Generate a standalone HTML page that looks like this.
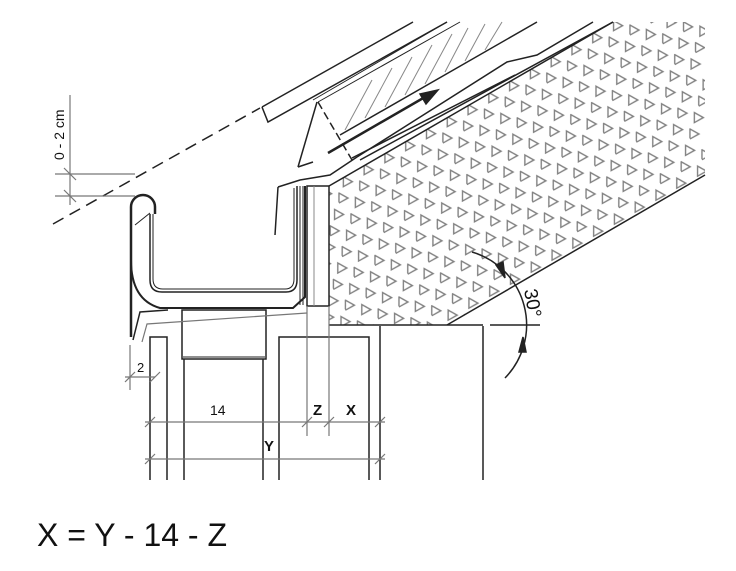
<!DOCTYPE html>
<html><head><meta charset="utf-8"><style>
html,body{margin:0;padding:0;background:#fff;}
svg{display:block;}
</style></head><body>
<svg width="736" height="571" viewBox="0 0 736 571" xmlns="http://www.w3.org/2000/svg" font-family="Liberation Sans, sans-serif">
<defs>
<pattern id="tri" width="24" height="24" patternUnits="userSpaceOnUse" patternTransform="rotate(-30)">
<polygon points="2,2 2,12 11,7" fill="none" stroke="#808080" stroke-width="1.4" transform="rotate(30 6 7)"/>
<polygon points="14,14 14,24 23,19" fill="none" stroke="#808080" stroke-width="1.4" transform="rotate(30 18 19)"/>
<polygon points="14,-10 14,0 23,-5" fill="none" stroke="#808080" stroke-width="1.4" transform="rotate(30 18 -5)"/>
</pattern>
<clipPath id="ins"><polygon points="329,186 613,22 705,22 705,175 447,325 329,325"/></clipPath>
</defs>
<g stroke="#222" fill="none" stroke-width="1.5">
<rect x="300" y="0" width="420" height="340" fill="url(#tri)" stroke="none" clip-path="url(#ins)"/>
<polyline points="329,186 613,22"/>
<polyline points="447,325 705,175"/>
<line x1="329" y1="325" x2="483" y2="325"/>
<polyline points="262,107 413,22"/>
<polyline points="262,107 268,122 447,22"/>
<line x1="313" y1="100" x2="447" y2="22" stroke-width="1"/>
<line x1="318" y1="102" x2="460" y2="22" stroke-width="1"/>
<line x1="340" y1="135" x2="537" y2="22"/>
<polyline points="317,102 298,167"/>
<line x1="298" y1="167" x2="313" y2="162"/>
<line x1="318" y1="102" x2="352" y2="160" stroke-dasharray="8,4"/>
<g stroke="#888" stroke-width="1">
<line x1="345" y1="130" x2="372" y2="80"/><line x1="365" y1="118" x2="392" y2="68"/>
<line x1="385" y1="107" x2="412" y2="57"/><line x1="405" y1="95" x2="432" y2="45"/>
<line x1="425" y1="84" x2="452" y2="34"/><line x1="445" y1="72" x2="468" y2="28"/>
<line x1="465" y1="61" x2="485" y2="24"/><line x1="485" y1="50" x2="502" y2="22"/>
</g>
<polyline points="357,157 507,62 537,55 593,22"/>
<line x1="360" y1="160" x2="613" y2="22"/>
<line x1="352" y1="158" x2="515" y2="75"/>
<polyline points="278,187 300,180 330,175 357,157"/>
<line x1="328" y1="153" x2="425" y2="97" stroke-width="2.5"/>
<polygon points="438,90 420,94 426,104" fill="#222"/>
<line x1="53" y1="224" x2="260" y2="108" stroke-dasharray="12,7"/>
<g stroke="#777" stroke-width="1.2">
<line x1="55" y1="174" x2="135" y2="174"/><line x1="55" y1="196" x2="135" y2="196"/>
<line x1="70" y1="95" x2="70" y2="205"/>
<line x1="64" y1="168" x2="76" y2="180"/><line x1="64" y1="190" x2="76" y2="202"/>
</g>
<path d="M131,337 L131,207 A12,12 0 0 1 155,207 L155,214" stroke-width="2.5"/>
<path d="M150,214 L150,280 Q150,292 162,292 L286,292 Q297,292 297,280 L297,186"/>
<path d="M153,214 L153,279 Q153,289 163,289 L285,289 Q294,289 294,279 L294,188" stroke-width="1"/>
<path d="M131,260 Q131,300 160,308 L293,308 L305,297 L305,186" stroke-width="2"/>
<path d="M133,340 L140,312 L168,310"/>
<path d="M135,225 L150,213" stroke-width="1"/>
<line x1="300" y1="186" x2="300" y2="305" stroke-width="1"/>
<line x1="303" y1="186" x2="303" y2="305" stroke-width="1"/>
<line x1="278" y1="187" x2="275" y2="235"/>
<rect x="307" y="186" width="22" height="120"/>
<line x1="314" y1="186" x2="314" y2="306" stroke="#888" stroke-width="1"/>
<rect x="182" y="310" width="84" height="49"/>
<line x1="183" y1="357" x2="265" y2="357" stroke-width="1"/>
<line x1="184" y1="359" x2="184" y2="480"/><line x1="263" y1="359" x2="263" y2="480"/>
<polyline points="150,480 150,337 167,337 167,480"/>
<polyline points="279,480 279,337 369,337 369,480"/>
<line x1="380" y1="326" x2="380" y2="480"/>
<line x1="483" y1="326" x2="483" y2="480"/>
<g stroke="#777" stroke-width="1.2">
<polyline points="142,342 147,324 307,313"/>
<line x1="307" y1="306" x2="307" y2="436"/><line x1="329" y1="306" x2="329" y2="436"/>
<line x1="145" y1="422" x2="385" y2="422"/><line x1="145" y1="459" x2="385" y2="459"/>
<line x1="125" y1="377" x2="155" y2="377"/><line x1="130" y1="345" x2="130" y2="390"/>
<line x1="125" y1="382" x2="135" y2="372"/><line x1="150" y1="382" x2="160" y2="372"/>
<line x1="145" y1="427" x2="155" y2="417"/><line x1="145" y1="464" x2="155" y2="454"/>
<line x1="375" y1="427" x2="385" y2="417"/><line x1="375" y1="464" x2="385" y2="454"/>
<line x1="302" y1="427" x2="312" y2="417"/><line x1="324" y1="427" x2="334" y2="417"/>
</g>
<path d="M472,252 A76,76 0 0 1 505,378" stroke-width="1.5"/>
<line x1="490" y1="325" x2="540" y2="325"/>
<polygon points="505,278 496,265 503,262" fill="#222"/>
<polygon points="523,337 519,352 526,352" fill="#222"/>
</g>
<g fill="#111">
<text x="0" y="0" font-size="14" transform="translate(64,160) rotate(-90)">0 - 2 cm</text>
<text x="0" y="0" font-size="19" transform="translate(524,290) rotate(80)">30°</text>
<text x="137" y="372" font-size="13">2</text>
<text x="210" y="415" font-size="14">14</text>
<text x="313" y="415" font-size="15" font-weight="bold">Z</text>
<text x="346" y="415" font-size="15" font-weight="bold">X</text>
<text x="264" y="451" font-size="15" font-weight="bold">Y</text>
<text x="37" y="546" font-size="32">X = Y - 14 - Z</text>
</g>
</svg>
</body></html>
